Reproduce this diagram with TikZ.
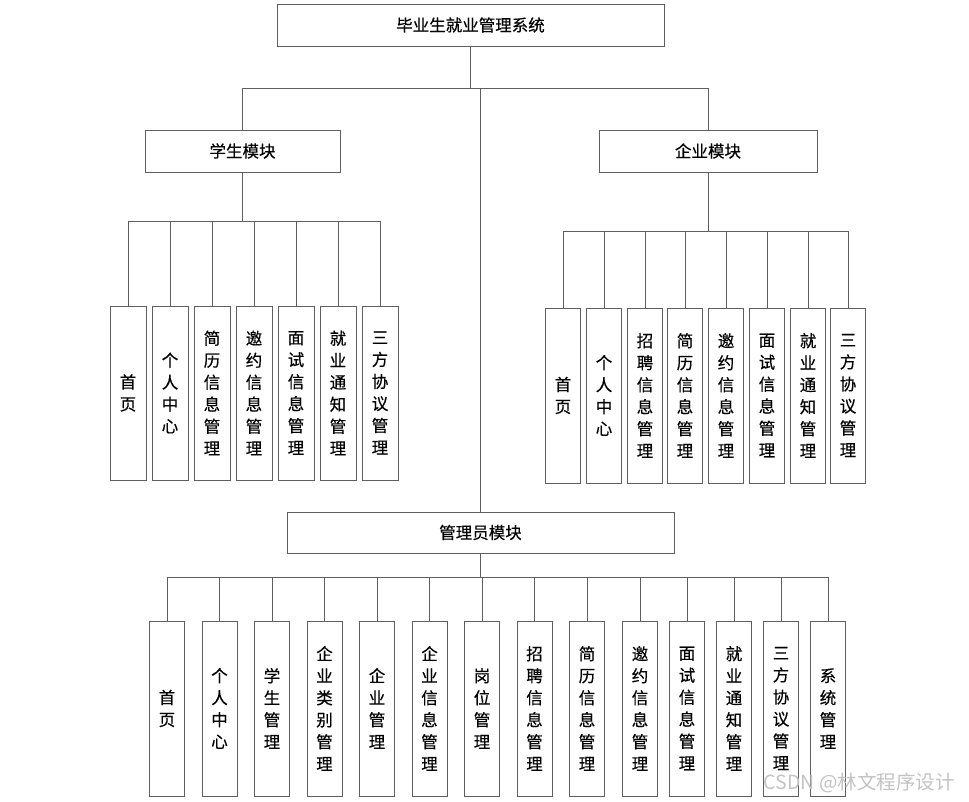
\documentclass[tikz,border=0pt]{standalone}
\usepackage{fontspec}
\setmainfont{Noto Sans CJK SC}[FakeBold=0.4]
\newfontfamily\wmfont{Noto Sans CJK SC}
\definecolor{lc}{RGB}{95,95,95}
\definecolor{wm}{RGB}{195,195,195}
\begin{document}
\begin{tikzpicture}[x=1pt,y=-1pt,
  box/.style={draw=lc,line width=0.9pt,rectangle,inner sep=0pt,font=\fontsize{16.5}{20}\selectfont},
  leaf/.style={draw=lc,line width=0.9pt,rectangle,inner sep=0pt,minimum width=35pt,minimum height=175pt,align=center,font=\fontsize{16.5}{22}\selectfont},
  conn/.style={draw=lc,line width=0.9pt}]
\fill[white] (0,0) rectangle (969,802);
\useasboundingbox (0,0) rectangle (969,802);
\node[box,minimum width=387pt,minimum height=42pt] (top) at (470.5,25) {毕业生就业管理系统};
\node[box,minimum width=195pt,minimum height=42pt] (stu) at (242.5,151) {学生模块};
\node[box,minimum width=218pt,minimum height=42pt] (ent) at (708,151) {企业模块};
\node[box,minimum width=387pt,minimum height=41pt] (adm) at (480.5,532.5) {管理员模块};
\coordinate (bus) at (470.5,88);
\coordinate (sbus) at (242.5,221);
\coordinate (ebus) at (707,231);
\coordinate (abus) at (480.5,577);
\draw[conn] (top.south) -- (bus);
\draw[conn] (stu.north) |- (bus);
\draw[conn] (ent.north) |- (bus);
\draw[conn] (adm.north) -- (adm.north |- bus);
\draw[conn] (stu.south) -- (sbus);
\draw[conn] (ent.south) -- (ent.south |- ebus);
\draw[conn] (adm.south) -- (abus);
\foreach \x/\t [count=\i] in {128/{首\\页},170/{个\\人\\中\\心},212/{简\\历\\信\\息\\管\\理},254/{邀\\约\\信\\息\\管\\理},296/{面\\试\\信\\息\\管\\理},338/{就\\业\\通\\知\\管\\理},380/{三\\方\\协\\议\\管\\理}}{
  \node[leaf,minimum width=36pt,minimum height=174pt] (s\i) at (\x,393) {\t};
  \draw[conn] (s\i.north) |- (sbus);
}
\foreach \x/\t [count=\i] in {563/{首\\页},604/{个\\人\\中\\心},645/{招\\聘\\信\\息\\管\\理},685/{简\\历\\信\\息\\管\\理},726/{邀\\约\\信\\息\\管\\理},767/{面\\试\\信\\息\\管\\理},808/{就\\业\\通\\知\\管\\理},848/{三\\方\\协\\议\\管\\理}}{
  \node[leaf] (e\i) at (\x,395.5) {\t};
  \draw[conn] (e\i.north) |- (ebus);
}
\foreach \x/\t [count=\i] in {167/{首\\页},219.5/{个\\人\\中\\心},272/{学\\生\\管\\理},324.5/{企\\业\\类\\别\\管\\理},377/{企\\业\\管\\理},429.5/{企\\业\\信\\息\\管\\理},482/{岗\\位\\管\\理},534.5/{招\\聘\\信\\息\\管\\理},587/{简\\历\\信\\息\\管\\理},640/{邀\\约\\信\\息\\管\\理},687/{面\\试\\信\\息\\管\\理},734/{就\\业\\通\\知\\管\\理},781/{三\\方\\协\\议\\管\\理},828/{系\\统\\管\\理}}{
  \node[leaf] (a\i) at (\x,708.5) {\t};
  \draw[conn] (a\i.north) |- (abus);
}
\node[text=wm,font=\wmfont\fontsize{19.5}{22}\selectfont,inner sep=0pt,anchor=east] (wmk) at (955,783) {CSDN @林文程序设计};
\end{tikzpicture}
\end{document}
